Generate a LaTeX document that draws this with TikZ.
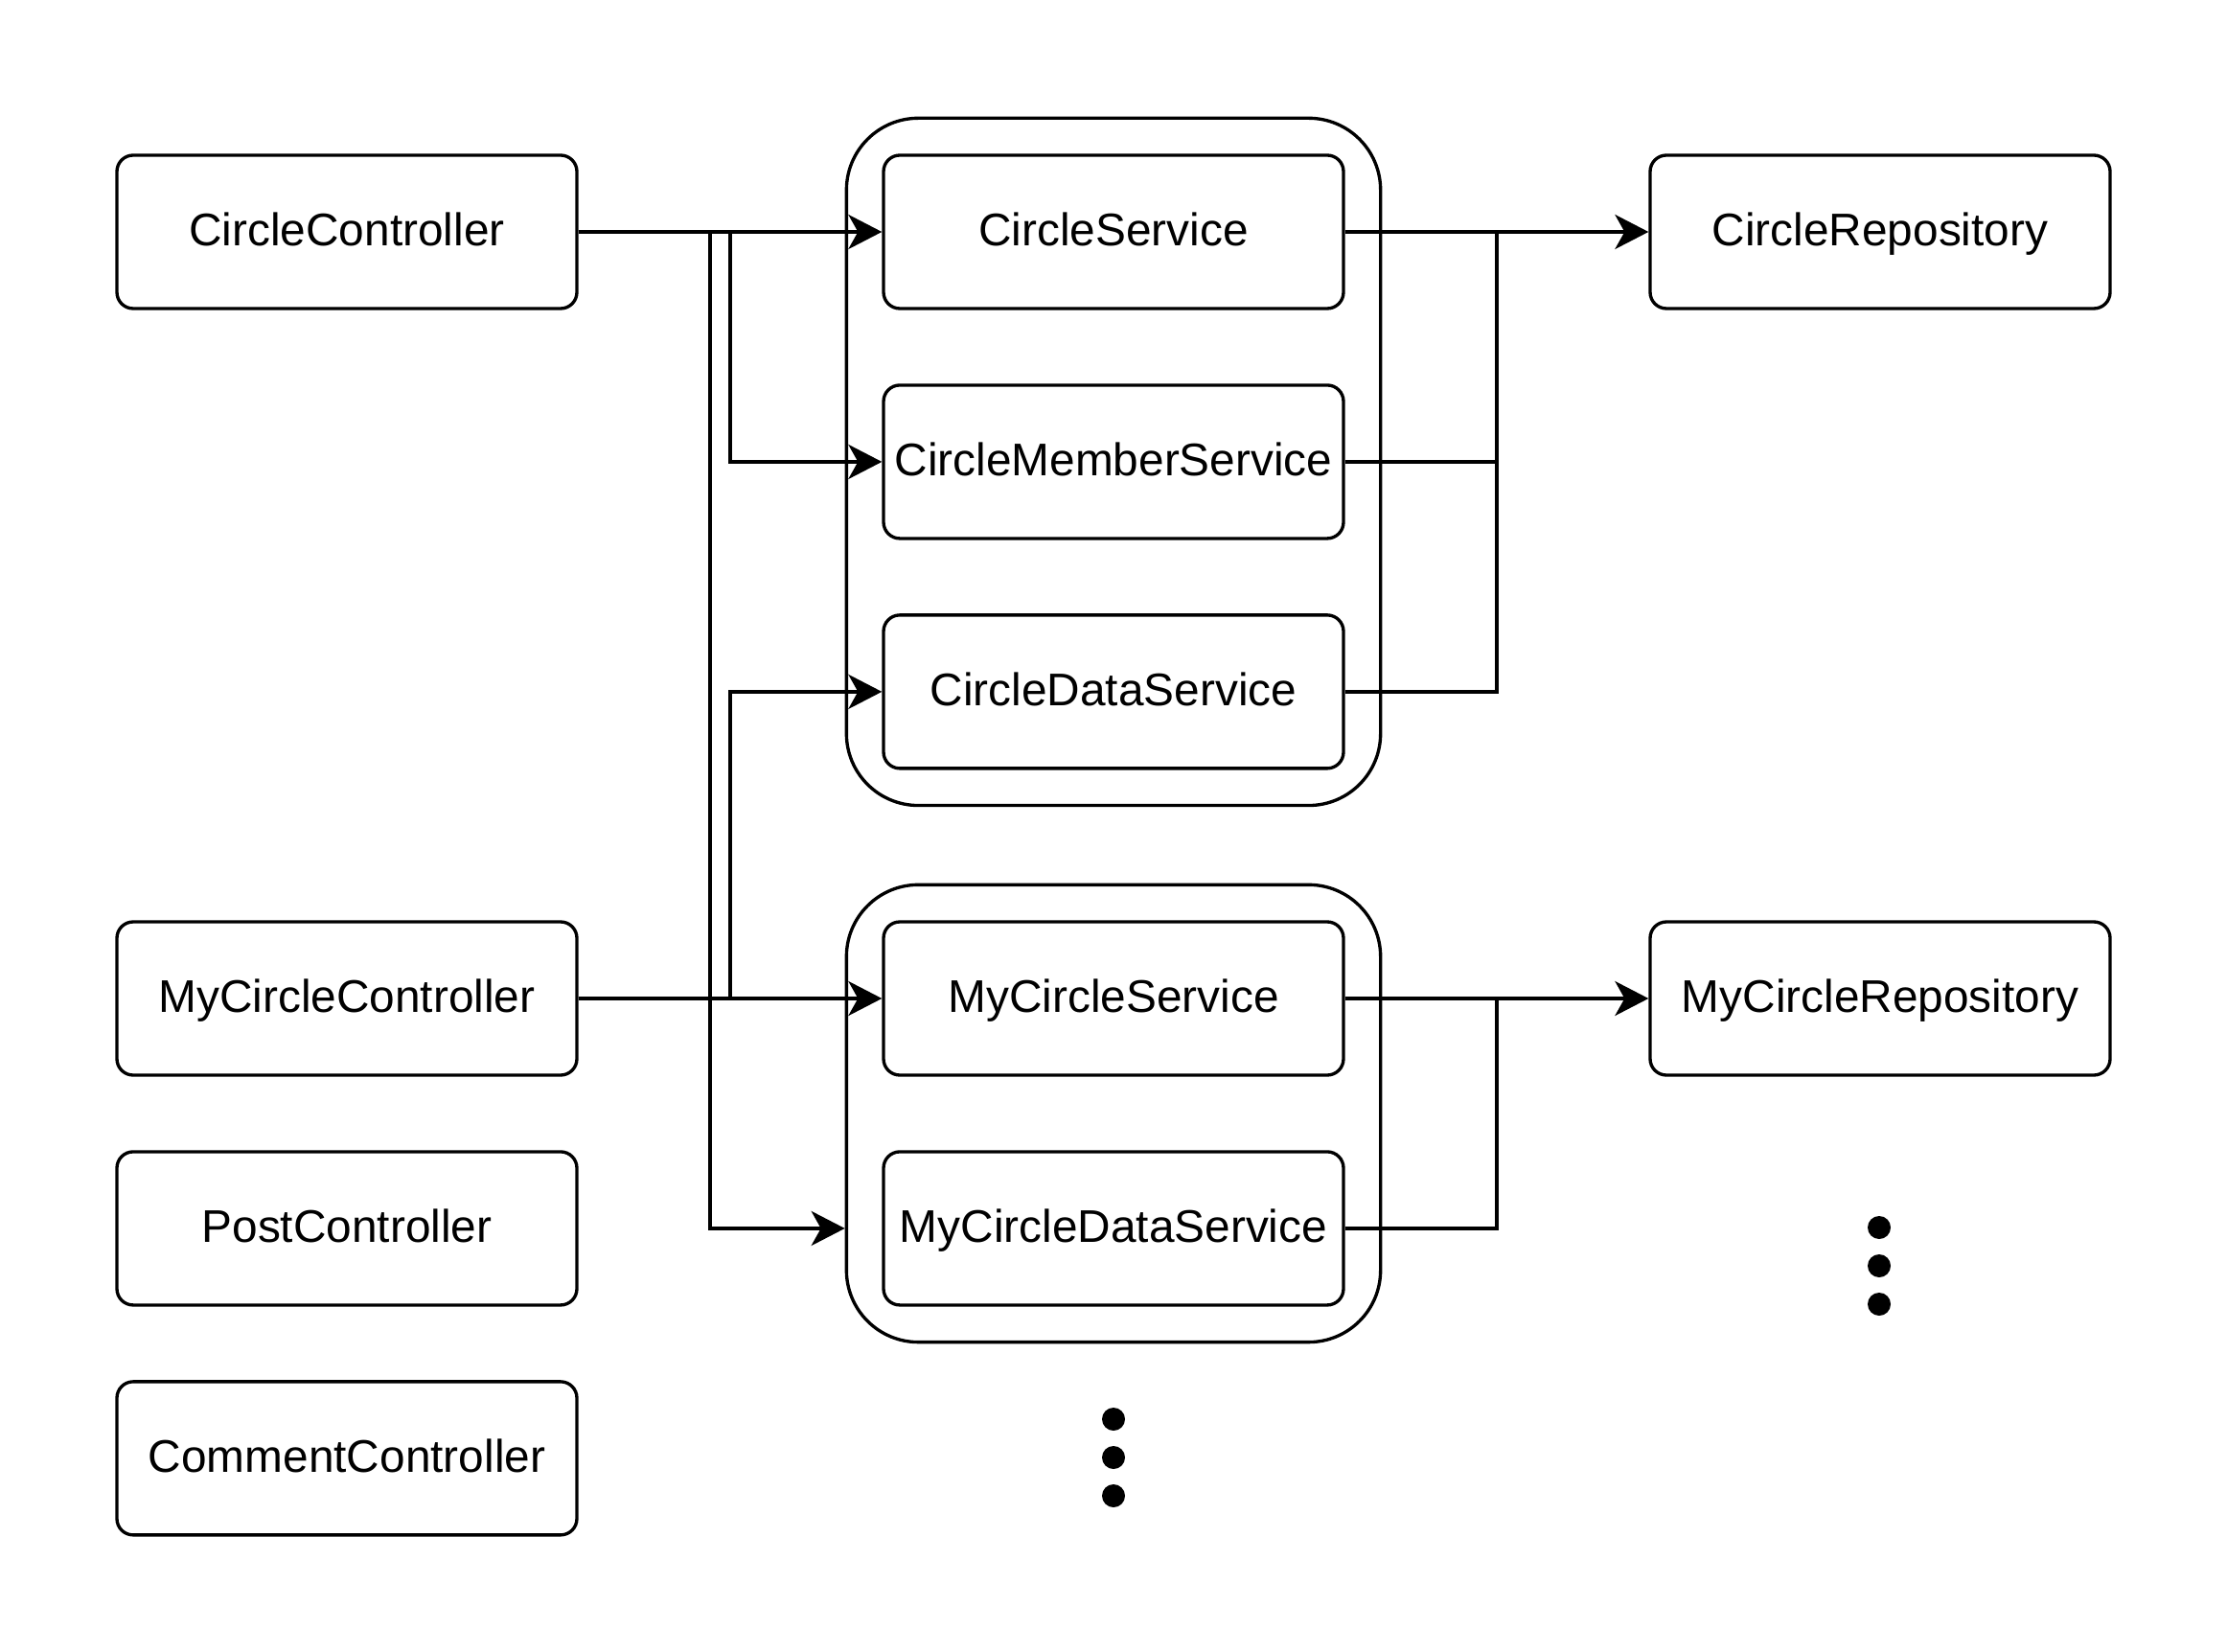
\documentclass[tikz,border=0pt]{standalone}
\usepackage{fontspec}
\setmainfont{Liberation Sans}
\usetikzlibrary{arrows.meta,calc,fit,positioning}
\tikzset{
  layer box/.style={
    draw=black,
    line width=.95pt,
    rounded corners=1.7mm,
    minimum width=4.8cm,
    minimum height=1.6cm,
    inner sep=0pt,
    text height=.85em,
    text depth=0pt,
    font=\fontsize{13.6}{16}\selectfont
  },
  layer group/.style={
    draw=black,
    line width=.95pt,
    rounded corners=7.5mm,
    inner sep=3.7mm
  },
  layer flow/.style={
    draw=black,
    line width=.95pt,
    -{Stealth[length=3.5mm,width=3.6mm,inset=1mm]}
  },
  layer join/.style={draw=black, line width=.95pt},
  layer dot/.style={fill=black}
}

\begin{document}
\begin{tikzpicture}[x=1cm,y=1cm]
  \useasboundingbox (0,0) rectangle (23.24,-17.24);

  % controllers
  \node[layer box] (circCtl) at (3.62,-2.42) {CircleController};
  \node[layer box] (myCtl) at (3.62,-10.42) {MyCircleController};
  \node[layer box, below=7.66mm of myCtl] (postCtl) {PostController};
  \node[layer box, below=7.66mm of postCtl] (commentCtl) {CommentController};

  % services
  \node[layer box] (circSvc) at (11.62,-2.42) {CircleService};
  \node[layer box, below=7.66mm of circSvc] (circMemSvc) {CircleMemberService};
  \node[layer box, below=7.66mm of circMemSvc] (circDataSvc) {CircleDataService};
  \node[layer box] (mySvc) at (11.62,-10.42) {MyCircleService};
  \node[layer box, below=7.66mm of mySvc] (myDataSvc) {MyCircleDataService};
  \node[layer group, fit=(circSvc)(circDataSvc)] (circGroup) {};
  \node[layer group, fit=(mySvc)(myDataSvc)] (myGroup) {};

  % repositories
  \node[layer box] (circRepo) at (19.62,-2.42) {CircleRepository};
  \node[layer box] (myRepo) at (19.62,-10.42) {MyCircleRepository};

  \coordinate (busA) at (7.41,0);
  \coordinate (busB) at (7.62,0);
  \coordinate (busR) at (15.62,0);

  % controller -> service
  \draw[layer flow] (circCtl.east) -- (circSvc.west);
  \draw[layer flow] (circCtl.east) -| (busB |- circMemSvc.west) -- (circMemSvc.west);
  \draw[layer flow] (circCtl.east) -| (busA |- myDataSvc.west) -- (myDataSvc.west -| myGroup.west);
  \draw[layer flow] (myCtl.east) -- (mySvc.west);
  \draw[layer flow] (myCtl.east) -| (busB |- circDataSvc.west) -- (circDataSvc.west);

  % service -> repository
  \draw[layer flow] (circSvc.east) -- (circRepo.west);
  \draw[layer join] (circMemSvc.east) -| (busR |- circSvc.east);
  \draw[layer join] (circDataSvc.east) -| (busR |- circSvc.east);
  \draw[layer flow] (mySvc.east) -- (myRepo.west);
  \draw[layer join] (myDataSvc.east) -| (busR |- mySvc.east);

  % more to come
  \foreach \k in {0,1,2} {
    \fill[layer dot] (11.62,-14.81-0.4*\k) circle (1.2mm);
    \fill[layer dot] (19.61,-12.81-0.4*\k) circle (1.2mm);
  }
\end{tikzpicture}
\end{document}
